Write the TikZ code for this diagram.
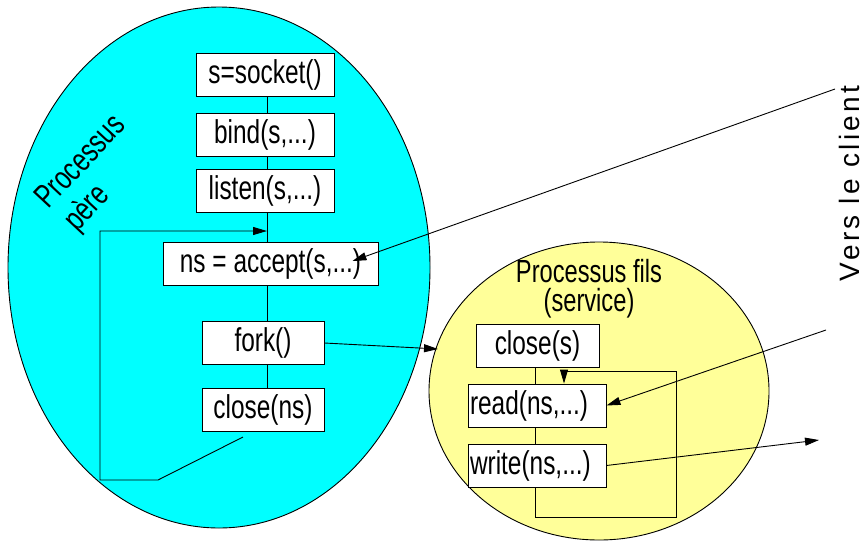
\documentclass[tikz,border=0pt]{standalone}
\usepackage{fontspec}
\setmainfont[FakeStretch=0.74]{Liberation Sans}
\newfontfamily\versfont[LetterSpace=12]{Liberation Sans}
\usepackage{tikz}
\usetikzlibrary{arrows.meta}
\definecolor{pere}{RGB}{0,255,255}
\definecolor{fils}{RGB}{255,255,153}

\begin{document}
\begin{tikzpicture}[x=1pt, y=-1pt, line width=0.9pt,
    call/.style={draw, fill=white, minimum height=43pt, inner sep=0pt,
      font=\fontsize{33}{36}\selectfont},
    flow/.style={-{Triangle[length=14pt,width=8pt]}}]
  \useasboundingbox (0,0) rectangle (866,541);
  % Processes
  \draw[fill=pere] (219,267.5) ellipse [x radius=211pt, y radius=260.5pt];
  \draw[fill=fils] (599,391) ellipse [x radius=170pt, y radius=149pt];
  % Labels
  \node[rotate=47, align=left, font=\fontsize{33}{36}\selectfont] (perelabel) at (95,175) {Processus\\\hspace{3pt}père};
  \node[align=center, font=\fontsize{32}{29}\selectfont] (filslabel) at (589,289) {Processus fils\\(service)};
  \node[rotate=90, font=\versfont\fontsize{28}{30}\selectfont] (client) at (849,183.5) {Vers le client};
  % Father: calls
  \node[call, minimum width=138pt] (socket) at (265,74.5) {s=socket()};
  \node[call, minimum width=138pt] (bind) at (265,134.5) {bind(s,...)};
  \node[call, minimum width=138pt] (listen) at (265,191) {listen(s,...)};
  \node[call, minimum width=215pt] (accept) at (270.5,264) {ns = accept(s,...)};
  \node[call, minimum width=122pt] (fork) at (263,343) {fork()};
  \node[call, minimum width=122pt] (closens) at (263,409.5) {close(ns)};
  \coordinate (spine) at (267,0);
  \draw (socket.south -| spine) -- (bind.north -| spine);
  \draw (bind.south -| spine) -- (listen.north -| spine);
  \draw (listen.south -| spine) -- (accept.north -| spine);
  \draw (accept.south -| spine) -- (fork.north -| spine);
  \draw (fork.south -| spine) -- (closens.north -| spine);
  % Father: loop back to accept
  \coordinate (loopstart) at (243,437);
  \coordinate (loopend) at (267,231);
  \draw[flow] (loopstart) -- (158,480) -- (100,480) |- (loopend);
  % Child: calls
  \node[call, minimum width=123pt] (closes) at (537.5,345.5) {close(s)};
  \node[call, minimum width=138pt, text width=134pt, align=left] (read) at (537,405.5) {read(ns,...)};
  \node[call, minimum width=138pt, text width=134pt, align=left] (write) at (537,465.5) {write(ns,...)};
  \coordinate (kid) at (535,0);
  \draw (closes.south -| kid) -- (read.north -| kid);
  \draw (read.south -| kid) -- (write.north -| kid);
  % Child: loop back to read
  \coordinate (back) at (564,371);
  \draw[flow] (write.south -| kid) |- (676,517) |- (back) -- (back |- read.north);
  % Links
  \coordinate (forkin) at (438,349);
  \coordinate (cliin) at (835,89);
  \coordinate (cliread) at (826,330);
  \coordinate (cliout) at (819,440);
  \draw[flow] (fork.east) -- (forkin);
  \draw[flow] (cliin) -- ([xshift=-26pt,yshift=3pt]accept.east);
  \draw[flow] (cliread) -- (read.east);
  \draw[flow] (write.east) -- (cliout);
\end{tikzpicture}
\end{document}
